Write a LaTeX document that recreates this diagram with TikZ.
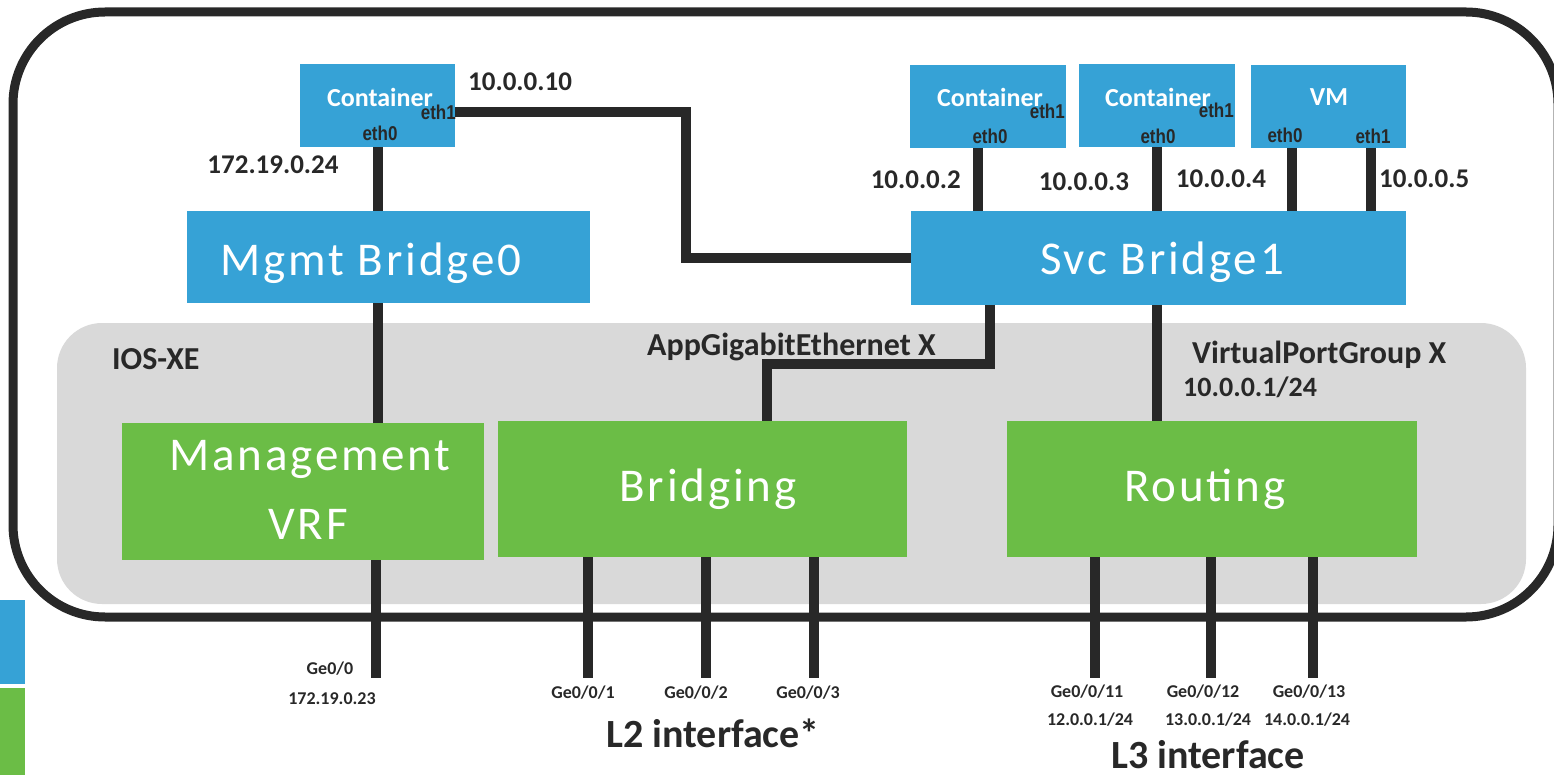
\documentclass[tikz,border=0pt]{standalone}
\usepackage{fontspec}
\setmainfont{Carlito}
\newfontfamily\bigfont[LetterSpace=6]{Carlito}
\newfontfamily\ethfont[FakeStretch=0.85]{Liberation Sans}
\definecolor{cblue}{HTML}{36A2D6}
\definecolor{cgreen}{HTML}{6BBD46}
\definecolor{cgray}{HTML}{D9D9D9}
\definecolor{cdark}{HTML}{282828}
\tikzset{
  bluebox/.style={fill=cblue, draw=none, inner sep=0pt, outer sep=0pt},
  greenbox/.style={fill=cgreen, draw=none, inner sep=0pt, outer sep=0pt},
  wire/.style={draw=cdark, line width=10pt},
  bigtxt/.style={text=white, inner sep=0pt, font=\bigfont\fontsize{47}{62}\selectfont},
  boxtxt/.style={text=white, inner sep=0pt, font=\bfseries\fontsize{26}{28}\selectfont},
  ethtxt/.style={text=cdark, inner sep=0pt, font=\ethfont\bfseries\fontsize{20}{22}\selectfont},
  lbl/.style={text=cdark, inner sep=0pt, font=\bfseries\fontsize{27}{30}\selectfont},
  sect/.style={text=cdark, inner sep=0pt, font=\bfseries\fontsize{32}{34}\selectfont},
  small/.style={text=cdark, inner sep=0pt, font=\bfseries\fontsize{18}{20}\selectfont},
  big/.style={text=cdark, inner sep=0pt, font=\bfseries\fontsize{40}{42}\selectfont},
}
\begin{document}
\begin{tikzpicture}[x=1pt,y=-1pt]
\useasboundingbox (0,0) rectangle (1554,775);
% legend bars
\fill[cblue] (0,600) rectangle (25,684);
\fill[cgreen] (0,688) rectangle (25,775);
% IOS-XE area
\fill[cgray, rounded corners=45pt] (57,323) rectangle (1526,604);
% outer border
\draw[cdark, line width=9pt, rounded corners=92pt] (13,12) rectangle (1558,617);

% boxes
\node[bluebox, minimum width=155pt, minimum height=83pt, anchor=north west] (c0) at (300,64) {};
\node[bluebox, minimum width=156pt, minimum height=83pt, anchor=north west] (c1) at (910,65) {};
\node[bluebox, minimum width=156pt, minimum height=83pt, anchor=north west] (c2) at (1079,64) {};
\node[bluebox, minimum width=155pt, minimum height=83pt, anchor=north west] (vm) at (1251,65) {};
\node[bluebox, minimum width=403pt, minimum height=92pt, anchor=north west] (mgmt) at (187,211) {};
\node[bluebox, minimum width=495pt, minimum height=94pt, anchor=north west] (svc) at (911,211) {};
\node[greenbox, minimum width=362pt, minimum height=137pt, anchor=north west] (vrf) at (122,423) {};
\node[greenbox, minimum width=409pt, minimum height=136pt, anchor=north west] (brg) at (498,421) {};
\node[greenbox, minimum width=410pt, minimum height=136pt, anchor=north west] (rtg) at (1007,421) {};

% texts in boxes
\node[bigtxt] (tmgmt) at (371,263) {Mgmt Bridge0};
\node[bigtxt] (tsvc) at (1162,262) {Svc Bridge1};
\node[bigtxt] (tvrf1) at (310,459) {Management};
\node[bigtxt] (tvrf2) at (308,524) {VRF};
\node[bigtxt] (tbrg) at (708,489) {Bridging};
\node[bigtxt] (trtg) at (1205,489) {Routing};

\node[boxtxt] (tc0) at (380,97) {Container};
\node[boxtxt] (tc1) at (990,97) {Container};
\node[boxtxt] (tc2) at (1158,97) {Container};
\node[boxtxt] (tvm) at (1329,97) {VM};

\node[ethtxt, anchor=east] (c0e1) at (456,112) {eth1};
\node[ethtxt] (c0e0) at (380,133) {eth0};
\node[ethtxt, anchor=east] (c1e1) at (1065,111) {eth1};
\node[ethtxt] (c1e0) at (990,136) {eth0};
\node[ethtxt, anchor=east] (c2e1) at (1234,110) {eth1};
\node[ethtxt] (c2e0) at (1158,136) {eth0};
\node[ethtxt] (vme0) at (1285,135) {eth0};
\node[ethtxt] (vme1) at (1373,136) {eth1};

% wires
\draw[wire] (c0.south) -- (c0.south |- mgmt.north);
\draw[wire] (c0.south |- mgmt.south) -- (c0.south |- vrf.north);
\coordinate (g0) at (376,678);
\draw[wire] (g0 |- vrf.south) -- (g0);
\coordinate (k1) at (686,112);
\draw[wire] (c0.east |- k1) -- (k1) -- (k1 |- svc.west) -- (svc.west);
\draw[wire] ([xshift=-10pt]c1.south) -- ([xshift=-10pt]c1.south |- svc.north);
\draw[wire] (c2.south) -- (c2.south |- svc.north);
\draw[wire] ([xshift=-37pt]vm.south) -- ([xshift=-37pt]vm.south |- svc.north);
\draw[wire] ([xshift=42pt]vm.south) -- ([xshift=42pt]vm.south |- svc.north);
\coordinate (a1) at (990,364);
\coordinate (a2) at (767,364);
\draw[wire] (a1 |- svc.south) -- (a1) -- (a2) -- (a2 |- brg.north);
\draw[wire] (c2.south |- svc.south) -- (c2.south |- rtg.north);
\coordinate (g1) at (588,678);
\coordinate (g2) at (706,678);
\coordinate (g3) at (814,678);
\coordinate (g11) at (1095,678);
\coordinate (g12) at (1211,678);
\coordinate (g13) at (1313,678);
\foreach \g in {g1,g2,g3} \draw[wire] (\g |- brg.south) -- (\g);
\foreach \g in {g11,g12,g13} \draw[wire] (\g |- rtg.south) -- (\g);

% labels
\node[lbl, anchor=west] (l10) at (468,82) {10.0.0.10};
\node[lbl] (l172) at (273,165) {172.19.0.24};
\node[lbl, anchor=east] (l2) at (961,180) {10.0.0.2};
\node[lbl] (l3) at (1084,182) {10.0.0.3};
\node[lbl] (l4) at (1221,179) {10.0.0.4};
\node[lbl, anchor=west] (l5) at (1379,179) {10.0.0.5};
\node[sect, anchor=west] (ios) at (112,359) {IOS-XE};
\node[sect, anchor=west] (agx) at (647,347) {AppGigabitEthernet X};
\node[sect, anchor=west] (vpg) at (1192,355) {VirtualPortGroup X};
\node[lbl, font=\bfseries\fontsize{28}{30}\selectfont, anchor=west] (vpgip) at (1183,387) {10.0.0.1/24};

\node[small] (t00) at (330,669) {Ge0/0};
\node[small] (t00ip) at (332,699) {172.19.0.23};
\node[small] (t01) at (583,693) {Ge0/0/1};
\node[small] (t02) at (696,693) {Ge0/0/2};
\node[small] (t03) at (808,693) {Ge0/0/3};
\node[big] (l2if) at (713,733) {L2 interface*};
\node[small] (t11) at (1087,692) {Ge0/0/11};
\node[small] (t12) at (1203,692) {Ge0/0/12};
\node[small] (t13) at (1309,692) {Ge0/0/13};
\node[small] (t11ip) at (1090,720) {12.0.0.1/24};
\node[small] (t12ip) at (1208,720) {13.0.0.1/24};
\node[small] (t13ip) at (1307,720) {14.0.0.1/24};
\node[big] (l3if) at (1208,755) {L3 interface};
\end{tikzpicture}
\end{document}
